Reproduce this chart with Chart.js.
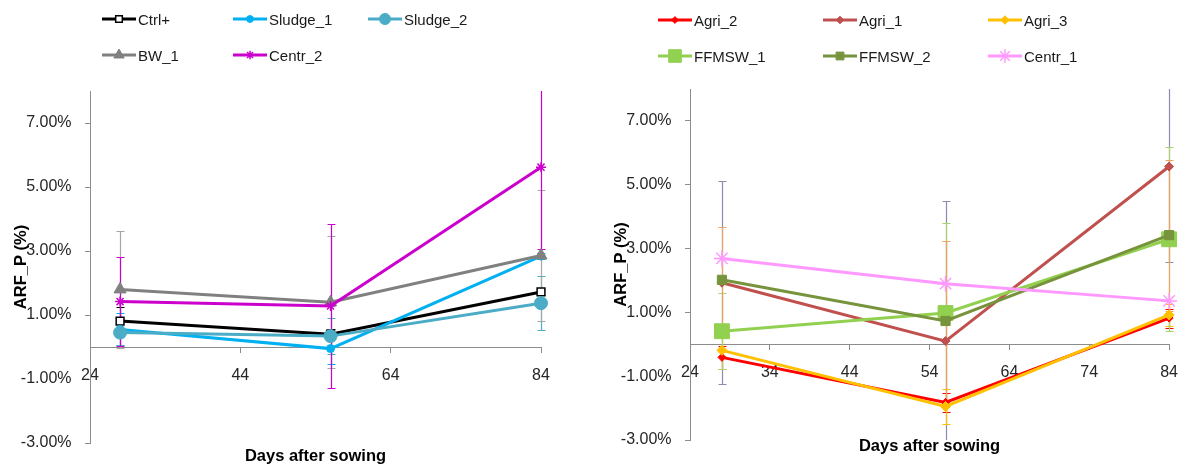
<!DOCTYPE html>
<html>
<head>
<meta charset="utf-8">
<script src="https://cdn.jsdelivr.net/npm/chart.js@4.4.1/dist/chart.umd.min.js"></script>
<style>
    body { margin: 0; background: #fff; width: 1192px; height: 470px; overflow: hidden; position: relative; font-family: "Liberation Sans", Arial, sans-serif; }
    .panel { position: absolute; top: 0; height: 470px; }
    #leftPanel { left: 0; width: 596px; }
    #rightPanel { left: 600px; width: 592px; }
    .legend-item { position: absolute; display: flex; align-items: center; font-size: 15px; color: #1a1a1a; white-space: nowrap; transform: translateY(-50%); }
    .legend-item canvas { margin-right: 2px; }
</style>
</head>
<body>
<div class="panel" id="leftPanel"><canvas id="leftChart" width="596" height="470"></canvas></div>
<div class="panel" id="rightPanel"><canvas id="rightChart" width="592" height="470"></canvas></div>
<div id="legends"></div>
<script>
// Dias de amostragem e eixos
const days = [28, 56, 84];
const xTicksLeft = [24, 44, 64, 84];
const xTicksRight = [24, 34, 44, 54, 64, 74, 84];
const yTicks = [-3, -1, 1, 3, 5, 7];

// Grafico esquerdo (valores em %)
const ctrlPlus = [0.81, 0.40, 1.72];
const ctrlPlusErr = [0.45, 0.15, 0.10];
const sludge1 = [0.55, -0.05, 2.84];
const sludge1Err = [0.50, 0.48, 0.10];
const sludge2 = [0.45, 0.34, 1.37];
const sludge2Err = [0.40, 0.56, 0.85];
const bw1 = [1.80, 1.40, 2.86];
const bw1Err = [1.82, 2.07, 2.06];
const centr2 = [1.42, 1.28, 5.62];
const centr2Err = [1.40, 2.57, 2.56];

// Grafico direito (valores em %)
const agri2 = [-0.41, -1.82, 0.82];
const agri2Err = [0.35, 0.30, 0.30];
const agri1 = [1.93, 0.10, 5.57];
const agri1Err = [3.18, 4.40, 3.00];
const agri3 = [-0.19, -1.95, 0.92];
const agri3Err = [0.60, 0.55, 0.35];
const ffmsw1 = [0.41, 0.98, 3.29];
const ffmsw1Err = [1.20, 2.82, 2.88];
const ffmsw2 = [2.02, 0.73, 3.42];
const ffmsw2Err = [1.65, 2.50, 2.37];
const centr1 = [2.69, 1.90, 1.36];
const centr1Err = [0, 0, 0];

const FONT = '"Liberation Sans", Arial, sans-serif';
const axisColor = '#8c8c8c';
const tickColor = '#262626';

function series(label, values, errors, color, style) {
    return Object.assign({
        label: label,
        data: values.map((v, i) => ({ x: days[i], y: v })),
        errors: errors,
        errorColor: color,
        borderColor: color,
        backgroundColor: color,
        borderWidth: 3,
        pointBackgroundColor: color,
        pointBorderColor: color,
        pointBorderWidth: 1,
        pointRadius: 4,
        pointStyle: 'circle',
        tension: 0,
        clip: false
    }, style);
}

const leftDatasets = [
    series('Ctrl+', ctrlPlus, ctrlPlusErr, '#000000', { pointStyle: 'rect', pointRadius: 5.5, pointBackgroundColor: '#ffffff', pointBorderWidth: 1.5 }),
    series('Sludge_1', sludge1, sludge1Err, '#00B0F0', { pointRadius: 4 }),
    series('Sludge_2', sludge2, sludge2Err, '#4BACC6', { pointRadius: 6.5 }),
    series('BW_1', bw1, bw1Err, '#808080', { pointStyle: 'triangle', pointRadius: 7, errorColor: '#a6a6a6' }),
    series('Centr_2', centr2, centr2Err, '#CC00CC', { pointStyle: 'star', pointRadius: 5, pointBorderWidth: 1.5 })
];

const rightDatasets = [
    series('Agri_2', agri2, agri2Err, '#FF0000', { pointStyle: 'rectRot', pointRadius: 4 }),
    series('Agri_1', agri1, agri1Err, '#C0504D', { pointStyle: 'rectRot', pointRadius: 4.5, errorColor: '#8e8cae' }),
    series('Agri_3', agri3, agri3Err, '#FFC000', { pointStyle: 'rectRot', pointRadius: 5 }),
    series('FFMSW_1', ffmsw1, ffmsw1Err, '#92D050', { pointStyle: 'rect', pointRadius: 10.5, errorColor: '#a9d46b' }),
    series('FFMSW_2', ffmsw2, ffmsw2Err, '#77933C', { pointStyle: 'rect', pointRadius: 6.5, errorColor: '#f0a060' }),
    series('Centr_1', centr1, centr1Err, '#FF99FF', { pointStyle: 'star', pointRadius: 8, pointBorderWidth: 1.5 })
];

// Barras de erro desenhadas com as escalas do grafico
const errorBarPlugin = {
    id: 'errorBars',
    beforeDatasetsDraw(chart) {
        const { ctx, chartArea, scales } = chart;
        const xs = scales.x, ys = scales.y;
        ctx.save();
        ctx.beginPath();
        ctx.rect(chartArea.left - 10, chartArea.top, chartArea.width + 20, chartArea.height);
        ctx.clip();
        ctx.lineWidth = 1.2;
        chart.data.datasets.forEach(ds => {
            if (!ds.errors) return;
            ctx.strokeStyle = ds.errorColor;
            ds.data.forEach((pt, i) => {
                const e = ds.errors[i];
                if (!e) return;
                const px = Math.round(xs.getPixelForValue(pt.x)) + 0.5;
                const top = Math.round(ys.getPixelForValue(pt.y + e)) + 0.5;
                const bot = Math.round(ys.getPixelForValue(pt.y - e)) + 0.5;
                ctx.beginPath();
                ctx.moveTo(px, top); ctx.lineTo(px, bot);
                ctx.moveTo(px - 4, top); ctx.lineTo(px + 4, top);
                ctx.moveTo(px - 4, bot); ctx.lineTo(px + 4, bot);
                ctx.stroke();
            });
        });
        ctx.restore();
    }
};

function makeChart(id, datasets, xTicks, pad, bottomH, titlePad) {
    const n = datasets.length;
    datasets.forEach((ds, i) => { ds.order = n - i; });
    return new Chart(document.getElementById(id), {
        type: 'line',
        data: { datasets: datasets },
        plugins: [errorBarPlugin],
        options: {
            responsive: false,
            animation: false,
            layout: { padding: pad },
            plugins: { legend: { display: false }, tooltip: { enabled: false } },
            scales: {
                x: {
                    type: 'linear', min: 24, max: 84,
                    position: { y: 0 },
                    afterBuildTicks: s => { s.ticks = xTicks.map(v => ({ value: v })); },
                    grid: { drawOnChartArea: false, drawTicks: true, tickLength: 5, color: axisColor },
                    border: { display: true, color: axisColor, width: 1 },
                    ticks: { padding: 14, maxRotation: 0, autoSkip: false, color: tickColor, font: { family: FONT, size: 16 } }
                },
                x2: {
                    type: 'linear', axis: 'x', min: 24, max: 84, position: 'bottom',
                    afterFit: s => { s.height = bottomH; },
                    ticks: { display: false },
                    grid: { display: false },
                    border: { display: false },
                    title: { display: true, text: 'Days after sowing', color: '#000', font: { family: FONT, size: 16.5, weight: 'bold' }, padding: { top: 0, bottom: titlePad } }
                },
                y: {
                    type: 'linear', min: -3, max: 8,
                    afterBuildTicks: s => { s.ticks = yTicks.map(v => ({ value: v })); },
                    afterFit: s => { s.width = 90; },
                    grid: { drawOnChartArea: false, drawTicks: true, tickLength: 5, color: axisColor },
                    border: { display: true, color: axisColor, width: 1 },
                    ticks: { padding: 13.5, color: tickColor, font: { family: FONT, size: 16 }, callback: v => Number(v).toFixed(2) + '%' },
                    title: { display: true, text: 'ARF_P (%)', color: '#000', font: { family: FONT, size: 16.5, weight: 'bold' }, padding: { top: 12, bottom: 0 } }
                }
            }
        }
    });
}

makeChart('leftChart', leftDatasets, xTicksLeft, { left: 0, right: 55, top: 91, bottom: 0 }, 27, 3.2);
makeChart('rightChart', rightDatasets, xTicksRight, { left: 0, right: 18, top: 89, bottom: 0 }, 30, 13.2);

// Legendas em grade (como no Excel)
function drawSample(cv, ds) {
    const c = cv.getContext('2d');
    c.strokeStyle = ds.borderColor;
    c.lineWidth = ds.borderWidth;
    c.beginPath(); c.moveTo(0, 10); c.lineTo(34, 10); c.stroke();
    c.fillStyle = ds.pointBackgroundColor;
    c.strokeStyle = ds.pointBorderColor;
    c.lineWidth = ds.pointBorderWidth;
    if (Chart.helpers && Chart.helpers.drawPoint) {
        Chart.helpers.drawPoint(c, { pointStyle: ds.pointStyle, radius: ds.pointRadius * 0.85, borderWidth: ds.pointBorderWidth, rotation: 0 }, 17, 10);
    }
}

function buildLegend(datasets, cols, rows) {
    const box = document.getElementById('legends');
    datasets.forEach((ds, i) => {
        const item = document.createElement('div');
        item.className = 'legend-item';
        item.style.left = cols[i % 3] + 'px';
        item.style.top = rows[Math.floor(i / 3)] + 'px';
        const cv = document.createElement('canvas');
        cv.width = 34; cv.height = 20;
        item.appendChild(cv);
        const span = document.createElement('span');
        span.textContent = ds.label;
        item.appendChild(span);
        box.appendChild(item);
        drawSample(cv, ds);
    });
}

buildLegend(leftDatasets, [102, 233, 368], [19, 55]);
buildLegend(rightDatasets, [658, 823, 988], [20, 56]);
</script>
</body>
</html>
